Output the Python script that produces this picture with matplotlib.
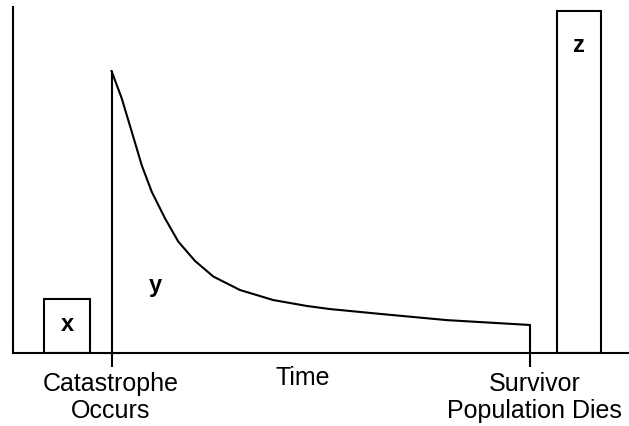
import matplotlib.pyplot as plt

plt.rcParams['font.family'] = ['Liberation Sans', 'DejaVu Sans']

# population curve after the catastrophe
curve_t = [16.0, 17.65, 19.27, 20.89, 22.52, 24.68, 26.83, 29.55, 32.52, 36.85,
           42.26, 47.68, 51.46, 59.58, 70.45, 83.9]
curve_pop = [81.5, 73.6, 64.0, 54.3, 46.6, 38.9, 32.2, 26.6, 22.1, 18.2,
             15.3, 13.6, 12.7, 11.3, 9.5, 8.1]

# the two bars
bar_names = ["x", "z"]
bar_left = [5.0, 88.3]
bar_right = [12.5, 95.5]
bar_height = [15.6, 98.8]

t_catastrophe = 16.0
t_dies = 83.9

fig = plt.figure(figsize=(6.29, 4.26), dpi=100)
ax = fig.add_axes([13 / 629, 73 / 426, 616 / 629, 346 / 426])

for name, l, r, h in zip(bar_names, bar_left, bar_right, bar_height):
  ax.bar((l + r) / 2, h, width=r - l, color="white", edgecolor="black", linewidth=1.5)

ax.plot(curve_t, curve_pop, color="black", linewidth=1.5, solid_joinstyle="round")
ax.vlines([t_catastrophe], 0, curve_pop[0], color="black", linewidth=1.5)
ax.vlines([t_dies], 0, curve_pop[-1], color="black", linewidth=1.5)

# letters on the regions
ax.text(8.77, 8.1, "x", fontsize=17, fontweight="bold", ha="center", va="center")
ax.text(23.05, 19.4, "y", fontsize=17, fontweight="bold", ha="center", va="center")
ax.text(91.9, 89.0, "z", fontsize=17, fontweight="bold", ha="center", va="center")

ax.set_xlim(0, 100)
ax.set_ylim(0, 100)
ax.spines["top"].set_visible(False)
ax.spines["right"].set_visible(False)
ax.spines["left"].set_linewidth(1.5)
ax.spines["bottom"].set_linewidth(1.5)
ax.set_yticks([])
ax.set_xticks([t_catastrophe, t_dies])
ax.set_xticklabels([])
ax.tick_params(axis="x", direction="out", length=10, width=1.5)

# labels under the axis
ax.text(15.9, -5.5, "Catastrophe\nOccurs", fontsize=18, ha="center", va="top",
        linespacing=1.15)
ax.text(47.1, -3.8, "Time", fontsize=18, ha="center", va="top")
ax.text(84.7, -5.5, "Survivor\nPopulation Dies", fontsize=18, ha="center", va="top",
        linespacing=1.15)

plt.savefig("out.png", dpi=100)
